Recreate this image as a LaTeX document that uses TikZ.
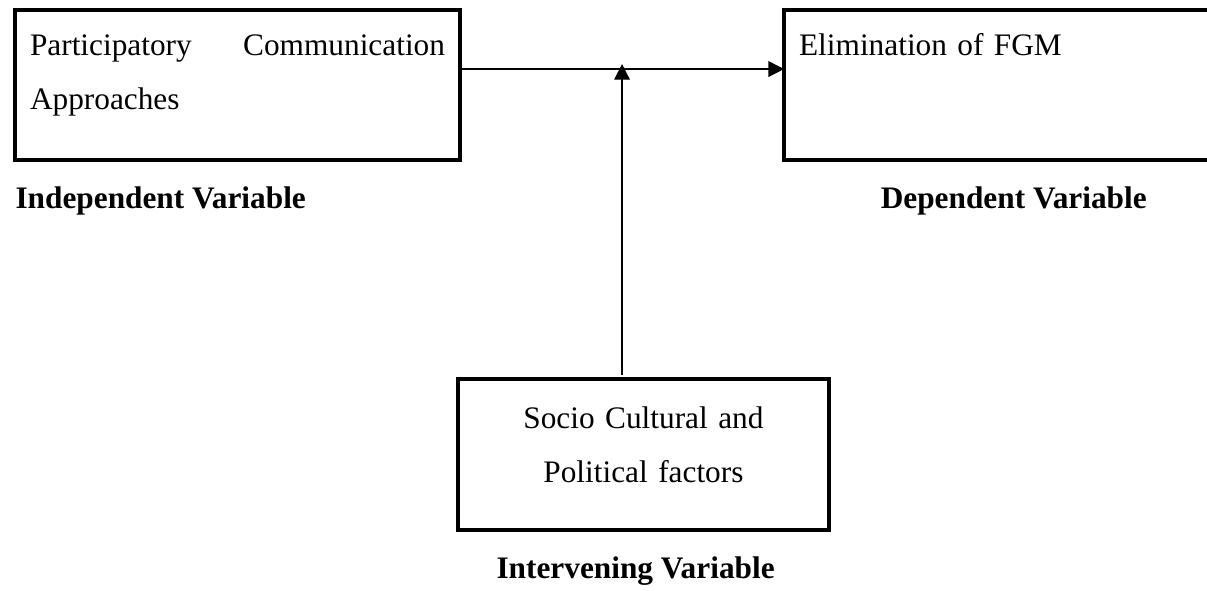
\documentclass[tikz,border=0pt]{standalone}
\usepackage{fontspec}
\setmainfont{Liberation Serif}
\usetikzlibrary{arrows.meta,positioning}
\tikzset{
  basic/.style    = {draw, line width=1.3pt, outer sep=0pt, inner ysep=0pt,
                     inner xsep=5.75pt, font={\fontsize{12}{20.7}\selectfont}},
  varbox/.style   = {basic, align=left, text height=17.3pt, text depth=40.2pt},
  midbox/.style   = {basic, align=center, text width=130.6pt,
                     text height=18.8pt, text depth=39.1pt},
  vartitle/.style = {inner sep=0pt, font={\fontsize{12}{14}\selectfont\bfseries}}
}

\begin{document}
\begin{tikzpicture}[
  >={Triangle[length=6pt,width=6pt]},
  node distance=10pt]

% page frame, the dependent box runs off the right side
\path[use as bounding box, clip] (0,0) rectangle (462.5pt,-226.1pt);

% the three variable boxes
\node[varbox, text width=159pt, anchor=north west] (indep) at (5.75pt,-3.8pt)
  {Participatory\hfill Communication\\Approaches};
\node[varbox, text width=164.5pt, right=124.2pt of indep] (dep) {Elimination of FGM};
\node[midbox, anchor=north west] (soc) at (175.5pt,-145.2pt)
  {Socio Cultural and\\Political factors};

% titles under the boxes
\begin{scope}[every node/.style={vartitle}]
\node [below=10pt of indep.south west, anchor=north west] (indept) {Independent Variable};
\node [below=10pt of dep] (dept) {Dependent Variable};
\node [below=10pt of soc, xshift=-3pt] (soct) {Intervening Variable};
\end{scope}

% arrows
\path ([yshift=6.1pt]indep.east) coordinate (a1)
      ([yshift=6.1pt]dep.west) coordinate (a2);
\draw[->, line width=0.5pt] (a1) -- (a2);
\coordinate[xshift=-8.2pt, yshift=1.9pt] (join) at (soc.north |- a1);
\draw[->, line width=0.5pt] ([xshift=-8.2pt, yshift=1.5pt]soc.north) -- (join);
\end{tikzpicture}
\end{document}
